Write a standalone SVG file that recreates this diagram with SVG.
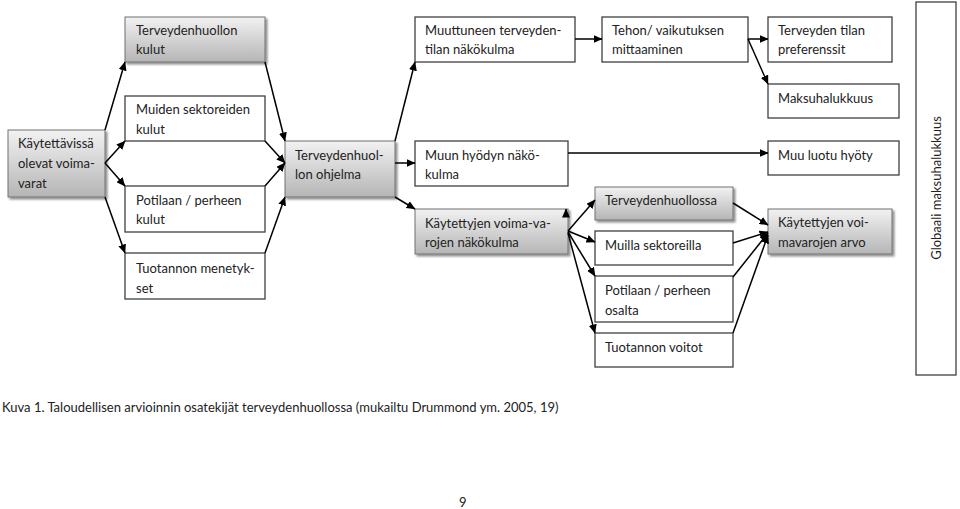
<svg xmlns="http://www.w3.org/2000/svg" width="960" height="509" viewBox="0 0 960 509">
<defs>
<linearGradient id="g" x1="0" y1="0" x2="0" y2="1">
<stop offset="0" stop-color="#f2f2f2"/>
<stop offset="1" stop-color="#b5b5b5"/>
</linearGradient>
<filter id="sh" x="-10%" y="-10%" width="130%" height="140%">
<feGaussianBlur in="SourceAlpha" stdDeviation="1.2"/>
<feOffset dx="1.5" dy="2" result="b"/>
<feComponentTransfer><feFuncA type="linear" slope="0.45"/></feComponentTransfer>
<feMerge><feMergeNode/><feMergeNode in="SourceGraphic"/></feMerge>
</filter>
<marker id="a" markerWidth="9" markerHeight="8" refX="8.5" refY="4" orient="auto" markerUnits="userSpaceOnUse">
<path d="M0,0 L9,4 L0,8 Z" fill="#000"/>
</marker>
</defs>
<style>
.b{fill:#fff;stroke:#404040;stroke-width:1.3}
.s{fill:url(#g);stroke:#707070;stroke-width:1;filter:url(#sh)}
text{font-family:Lato,"Liberation Sans",sans-serif;font-size:13px;fill:#222}
.c line{stroke:#000;stroke-width:1.5;marker-end:url(#a)}
</style>
<rect width="960" height="509" fill="#fff"/>

<g id="n1"><rect class="s" x="8" y="130" width="97" height="67"/><text x="18" y="148">Käytettävissä</text><text x="18" y="168">olevat voima-</text><text x="18" y="188">varat</text></g>
<g id="n2"><rect class="s" x="125" y="17" width="140" height="45"/><text x="136" y="35">Terveydenhuollon</text><text x="136" y="54">kulut</text></g>
<g id="n3"><rect class="b" x="125" y="96" width="140" height="45"/><text x="136" y="114">Muiden sektoreiden</text><text x="136" y="134">kulut</text></g>
<g id="n4"><rect class="b" x="125" y="186" width="140" height="46"/><text x="136" y="205">Potilaan / perheen</text><text x="136" y="224">kulut</text></g>
<g id="n5"><rect class="b" x="125" y="253" width="140" height="46"/><text x="136" y="273">Tuotannon menetyk-</text><text x="136" y="293">set</text></g>
<g id="n6"><rect class="s" x="285" y="141" width="110" height="56"/><text x="295" y="160">Terveydenhuol-</text><text x="295" y="179">lon ohjelma</text></g>
<g id="n7"><rect class="b" x="415" y="17" width="160" height="45"/><text x="425" y="35">Muuttuneen terveyden-</text><text x="425" y="54">tilan näkökulma</text></g>
<g id="n8"><rect class="b" x="415" y="141" width="153" height="45"/><text x="425" y="160">Muun hyödyn näkö-</text><text x="425" y="179">kulma</text></g>
<g id="n9"><rect class="s" x="415" y="209" width="153" height="45"/><text x="425" y="228">Käytettyjen voima-va-</text><text x="425" y="247">rojen näkökulma</text></g>
<g id="n10"><rect class="b" x="602" y="17" width="146" height="45"/><text x="612" y="35">Tehon/ vaikutuksen</text><text x="612" y="54">mittaaminen</text></g>
<g id="n11"><rect class="b" x="768" y="17" width="124" height="45"/><text x="778" y="35">Terveyden tilan</text><text x="778" y="54">preferenssit</text></g>
<g id="n12"><rect class="b" x="768" y="84" width="131" height="34"/><text x="778" y="103">Maksuhalukkuus</text></g>
<g id="n13"><rect class="b" x="768" y="141" width="131" height="34"/><text x="778" y="160">Muu luotu hyöty</text></g>
<g id="n14"><rect class="s" x="768" y="209" width="124" height="45"/><text x="778" y="227">Käytettyjen voi-</text><text x="778" y="247">mavarojen arvo</text></g>
<g id="n15"><rect class="s" x="595" y="187" width="138" height="33"/><text x="605" y="205">Terveydenhuollossa</text></g>
<g id="n16"><rect class="b" x="595" y="231" width="138" height="34"/><text x="605" y="250">Muilla sektoreilla</text></g>
<g id="n17"><rect class="b" x="595" y="276" width="138" height="46"/><text x="605" y="295">Potilaan / perheen</text><text x="605" y="315">osalta</text></g>
<g id="n18"><rect class="b" x="595" y="333" width="138" height="34"/><text x="605" y="352">Tuotannon voitot</text></g>
<g id="n19"><rect class="b" x="916" y="2" width="40" height="373"/><text transform="translate(941,188) rotate(-90)" text-anchor="middle">Globaali maksuhalukkuus</text></g>

<g class="c" id="connectors">
<line x1="105" y1="130" x2="125" y2="62"/>
<line x1="105" y1="163" x2="125" y2="141"/>
<line x1="105" y1="163" x2="125" y2="186"/>
<line x1="105" y1="197" x2="125" y2="253"/>
<line x1="265" y1="62" x2="285" y2="141"/>
<line x1="265" y1="141" x2="285" y2="163"/>
<line x1="265" y1="186" x2="285" y2="163"/>
<line x1="265" y1="253" x2="285" y2="197"/>
<line x1="395" y1="141" x2="415" y2="62"/>
<line x1="395" y1="163" x2="415" y2="163"/>
<line x1="395" y1="197" x2="415" y2="209"/>
<line x1="575" y1="39" x2="602" y2="39"/>
<line x1="568" y1="153" x2="768" y2="153"/>
<line x1="748" y1="39" x2="768" y2="39"/>
<line x1="748" y1="39" x2="768" y2="84"/>
<line x1="566" y1="214" x2="566" y2="209"/>
<line x1="568" y1="231" x2="595" y2="200"/>
<line x1="568" y1="231" x2="595" y2="242"/>
<line x1="568" y1="232" x2="595" y2="276"/>
<line x1="568" y1="233" x2="595" y2="333"/>
<line x1="733" y1="203" x2="768" y2="225"/>
<line x1="733" y1="243" x2="768" y2="232"/>
<line x1="733" y1="277" x2="768" y2="233"/>
<line x1="733" y1="333" x2="768" y2="235"/>
</g>

<text x="2" y="412">Kuva 1. Taloudellisen arvioinnin osatekijät terveydenhuollossa (mukailtu Drummond ym. 2005, 19)</text>
<text x="459" y="507">9</text>
</svg>
